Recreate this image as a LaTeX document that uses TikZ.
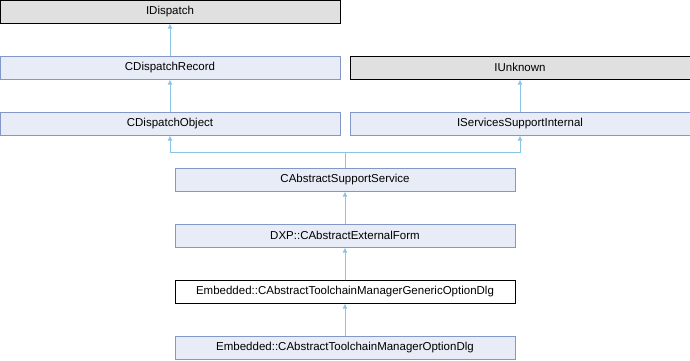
\documentclass[tikz,border=0pt]{standalone}
\usepackage{fontspec}
\setmainfont{Liberation Sans}
\usepackage{xcolor}
\usetikzlibrary{arrows.meta, positioning}

\definecolor{clsfill}{HTML}{E8ECF6}
\definecolor{clsdraw}{HTML}{8497C9}
\definecolor{extfill}{HTML}{E0E0E0}
\definecolor{edgeblue}{HTML}{8CC4E6}

\begin{document}
\begin{tikzpicture}[
  x=1pt, y=1pt,
  cls/.style={draw=clsdraw, fill=clsfill, line width=1pt, minimum width=340pt, minimum height=23pt, inner sep=0pt, font=\fontsize{11.5}{13}\selectfont},
  ext/.style={cls, draw=black, fill=extfill},
  cur/.style={cls, draw=black, fill=white},
  arr/.style={{Latex[length=5pt, width=5pt]}-, draw=edgeblue, line width=1pt},
]
  \useasboundingbox (0,0) rectangle (690,-360);

  % Left column
  \node[ext] (idisp) at (170, -11.5) {IDispatch};
  \node[cls] (drec) at (170, -67.5) {CDispatchRecord};
  \node[cls] (dobj) at (170, -123.5) {CDispatchObject};

  % Right column
  \node[ext] (iunk) at (520, -67.5) {IUnknown};
  \node[cls] (ssi) at (520, -123.5) {IServicesSupportInternal};

  % Centre column
  \node[cls] (abss) at (345, -179.5) {CAbstractSupportService};
  \node[cls] (extf) at (345, -235.5) {DXP::CAbstractExternalForm};
  \node[cur] (gdlg) at (345, -291.5) {Embedded::CAbstractToolchainManagerGenericOptionDlg};
  \node[cls] (odlg) at (345, -347.5) {Embedded::CAbstractToolchainManagerOptionDlg};

  % Inheritance arrows
  \draw[arr] (idisp.south) -- (drec.north);
  \draw[arr] (drec.south) -- (dobj.north);
  \draw[arr] (iunk.south) -- (ssi.north);
  \draw[arr] (dobj.south) |- ++(175,-16.5) -- (abss.north);
  \draw[arr] (ssi.south) |- ++(-175,-16.5) -- (abss.north);
  \draw[arr] (abss.south) -- (extf.north);
  \draw[arr] (extf.south) -- (gdlg.north);
  \draw[arr] (gdlg.south) -- (odlg.north);
\end{tikzpicture}
\end{document}
